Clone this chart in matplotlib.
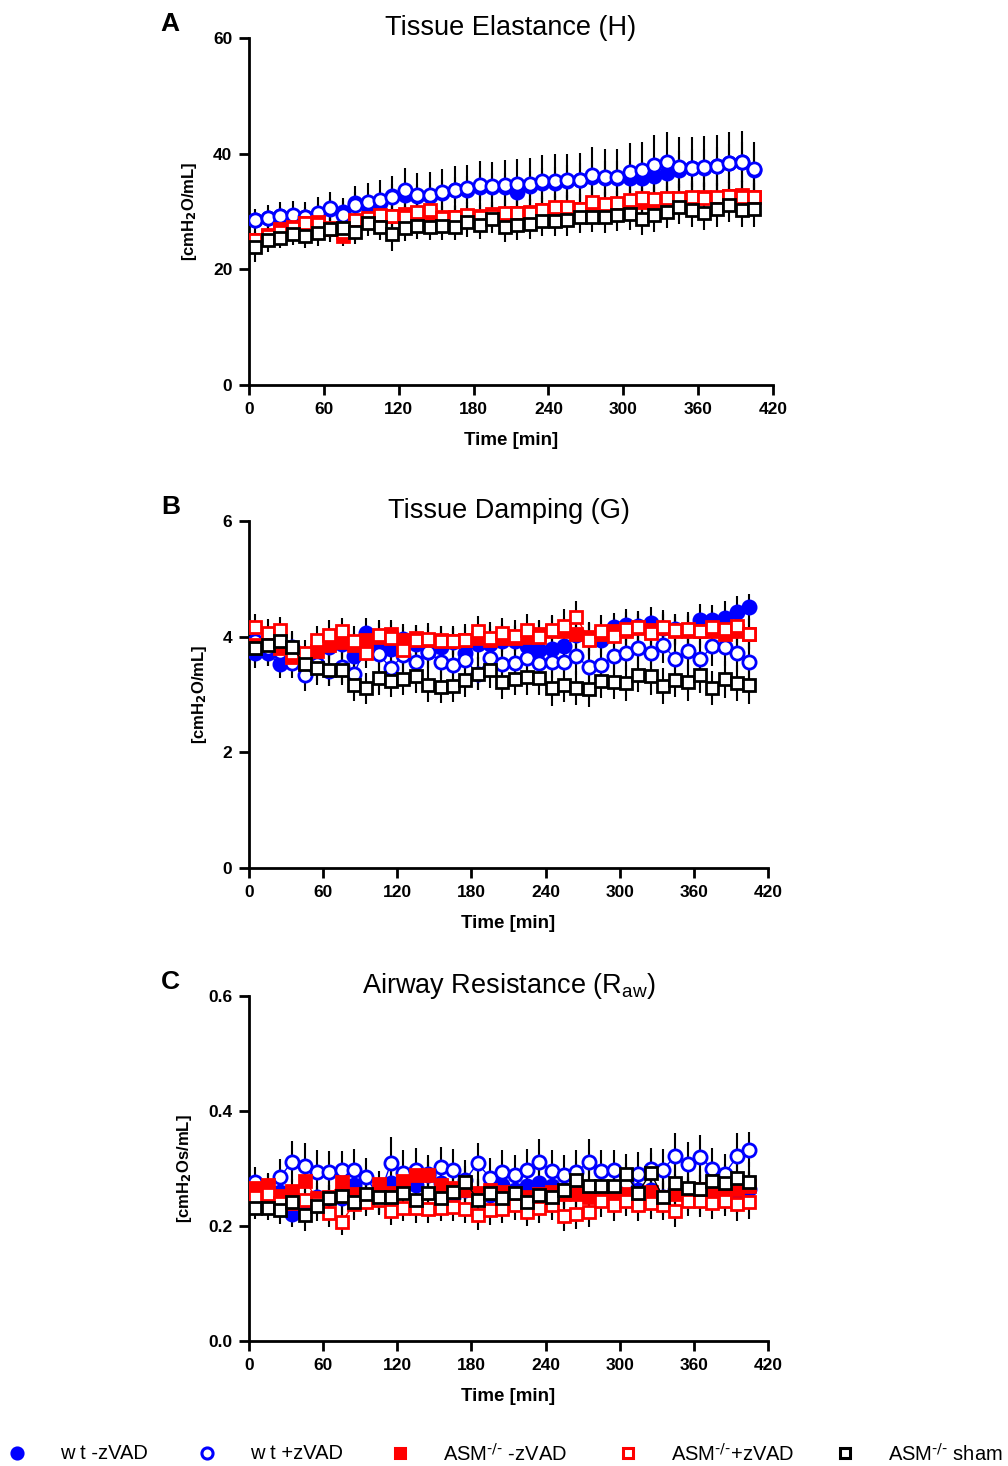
import matplotlib
matplotlib.use("Agg")
import matplotlib.pyplot as plt

plt.rcParams['font.family'] = ['Liberation Sans', 'DejaVu Sans']
plt.rcParams['mathtext.default'] = 'regular'

# time points [min]
time_min = [5, 15, 25, 35, 45, 55, 65, 75, 85, 95, 105, 115, 125, 135, 145, 155, 165,
            175, 185, 195, 205, 215, 225, 235, 245, 255, 265, 275, 285, 295, 305, 315,
            325, 335, 345, 355, 365, 375, 385, 395, 405]

series_names = ["w t -zVAD", "w t +zVAD", r"ASM$^{\text{-/-}}$ -zVAD",
                r"ASM$^{\text{-/-}}$+zVAD", r"ASM$^{\text{-/-}}$ sham"]

# ---- A: Tissue elastance H ----
H_wt_minus = [28.5, 28.8, 29.2, 29.0, 29.0, 29.6, 30.4, 30.0, 31.4, 31.0, 31.5, 32.6, 32.9, 32.6,
              32.7, 33.2, 33.7, 33.7, 34.2, 34.2, 34.2, 33.4, 34.4, 34.9, 35.0, 35.2, 35.5, 36.0,
              35.8, 35.8, 35.8, 35.8, 36.2, 36.6, 37.2, 37.5, 37.5, 37.8, 38.3, 38.6, 37.1]
H_wt_plus = [28.5, 28.9, 29.3, 29.4, 29.1, 29.8, 30.6, 29.4, 31.2, 31.7, 32.0, 32.5, 33.7, 32.8,
             32.9, 33.4, 33.8, 34.0, 34.6, 34.4, 34.6, 34.8, 34.8, 35.3, 35.3, 35.4, 35.4, 36.3,
             36.0, 35.9, 36.9, 37.1, 38.1, 38.6, 37.7, 37.5, 37.7, 37.9, 38.4, 38.6, 37.3]
H_asm_minus = [25.1, 26.0, 26.9, 27.3, 28.0, 28.2, 27.0, 25.7, 28.0, 28.4, 29.0, 29.2, 29.5, 29.8,
               29.4, 29.0, 29.0, 29.2, 29.3, 29.5, 29.6, 29.7, 29.9, 30.2, 30.5, 30.6, 30.4, 30.8,
               31.0, 31.2, 31.5, 31.6, 31.8, 32.0, 32.2, 32.4, 32.5, 32.4, 32.6, 32.8, 32.5]
H_asm_plus = [25.1, 25.8, 26.4, 27.1, 28.0, 27.8, 27.2, 26.5, 28.5, 28.8, 29.4, 29.3, 29.0, 30.0,
              30.2, 28.9, 29.0, 29.4, 29.0, 29.3, 29.7, 29.8, 29.8, 30.3, 30.7, 30.8, 30.5, 31.6,
              31.3, 31.4, 32.0, 32.3, 32.2, 32.4, 32.4, 32.5, 32.3, 32.5, 32.6, 32.5, 32.5]
H_sham = [23.8, 25.0, 25.5, 26.1, 25.7, 26.2, 26.9, 27.1, 26.5, 28.0, 27.3, 26.1, 27.2, 27.5,
          27.4, 27.5, 27.4, 28.1, 27.7, 28.7, 27.4, 27.7, 27.9, 28.3, 28.4, 28.5, 29.0, 29.1,
          29.0, 29.4, 29.6, 28.7, 29.4, 30.0, 30.7, 30.3, 29.8, 30.4, 31.1, 30.3, 30.4]

H_err_wt_minus = [1.5, 1.5, 1.6, 1.6, 1.7, 1.7, 1.8, 1.8, 1.9, 2.0, 2.0, 2.1, 2.1, 2.2, 2.2, 2.3,
                  2.3, 2.4, 2.4, 2.5, 2.5, 2.6, 2.6, 2.7, 2.7, 2.8, 2.8, 2.9, 2.9, 3.0, 3.0, 3.1,
                  3.1, 3.2, 3.2, 3.3, 3.3, 3.4, 3.4, 3.5, 3.5]
H_err_wt_plus = [2.0, 2.2, 2.3, 2.5, 2.6, 2.7, 2.8, 3.0, 3.2, 3.3, 3.5, 3.6, 3.8, 3.8, 3.9, 4.0,
                 4.0, 4.1, 4.2, 4.2, 4.3, 4.3, 4.4, 4.5, 4.6, 4.6, 4.7, 4.8, 4.8, 4.9, 5.0, 5.0,
                 5.1, 5.2, 5.2, 5.3, 5.3, 5.4, 5.4, 5.3, 4.7]
H_err_asm_minus = [1.5, 1.5, 1.6, 1.6, 1.6, 1.7, 1.7, 1.7, 1.8, 1.8, 1.8, 1.9, 1.9, 1.9, 2.0,
                   2.0, 2.0, 2.0, 2.1, 2.1, 2.1, 2.1, 2.2, 2.2, 2.2, 2.2, 2.3, 2.3, 2.3, 2.3,
                   2.4, 2.4, 2.4, 2.4, 2.5, 2.5, 2.5, 2.5, 2.5, 2.5, 2.5]
H_err_asm_plus = [1.4, 1.5, 1.5, 1.6, 1.6, 1.7, 1.7, 1.8, 1.8, 1.9, 1.9, 2.0, 2.0, 2.1, 2.1,
                  2.1, 2.2, 2.2, 2.2, 2.3, 2.3, 2.3, 2.4, 2.4, 2.4, 2.5, 2.5, 2.5, 2.6, 2.6,
                  2.6, 2.7, 2.7, 2.7, 2.8, 2.8, 2.8, 2.9, 2.9, 2.9, 3.0]
H_err_sham = [2.6, 2.0, 1.8, 1.9, 2.0, 2.1, 2.2, 2.2, 2.2, 2.3, 2.3, 3.0, 2.3, 2.3, 2.4, 2.4,
              2.4, 2.5, 2.5, 2.5, 2.6, 2.6, 2.6, 2.6, 2.7, 2.7, 2.7, 2.7, 2.8, 2.8, 2.8, 2.8,
              2.9, 2.9, 2.9, 2.9, 3.0, 3.0, 3.0, 3.0, 3.0]

# ---- B: Tissue damping G ----
G_wt_minus = [3.71, 3.71, 3.53, 3.82, 3.61, 3.78, 3.82, 3.88, 3.66, 4.06, 3.78, 3.78, 3.96, 3.88,
              3.74, 3.82, 3.90, 3.72, 3.88, 3.88, 3.93, 3.92, 3.84, 3.77, 3.78, 3.84, 4.03, 3.96,
              3.95, 4.16, 4.20, 4.19, 4.23, 4.15, 4.14, 4.12, 4.28, 4.28, 4.32, 4.42, 4.51]
G_wt_plus = [3.92, 3.80, 3.74, 3.55, 3.34, 3.53, 3.41, 3.48, 3.36, 3.85, 3.70, 3.45, 3.69, 3.57,
             3.74, 3.57, 3.51, 3.60, 3.36, 3.63, 3.53, 3.55, 3.63, 3.55, 3.57, 3.57, 3.66, 3.47,
             3.51, 3.66, 3.72, 3.80, 3.72, 3.86, 3.61, 3.76, 3.61, 3.83, 3.82, 3.71, 3.57]
G_asm_minus = [3.85, 3.90, 3.80, 3.65, 3.55, 3.75, 3.85, 3.90, 3.85, 3.95, 4.00, 4.05, 3.95, 3.98,
               3.95, 3.95, 3.92, 3.95, 3.98, 3.95, 3.98, 3.98, 4.00, 4.05, 4.10, 4.10, 4.05, 4.00,
               4.05, 4.10, 4.10, 4.15, 4.12, 4.15, 4.10, 4.10, 4.10, 4.10, 4.05, 4.10, 4.05]
G_asm_plus = [4.17, 4.07, 4.11, 3.72, 3.71, 3.94, 4.03, 4.09, 3.93, 3.71, 4.03, 3.98, 3.77, 3.95,
              3.96, 3.92, 3.93, 3.95, 4.09, 3.98, 4.06, 4.02, 4.12, 4.00, 4.12, 4.19, 4.34, 3.95,
              4.09, 4.02, 4.13, 4.17, 4.06, 4.17, 4.12, 4.13, 4.09, 4.17, 4.13, 4.18, 4.05]
G_sham = [3.80, 3.85, 3.92, 3.82, 3.52, 3.45, 3.42, 3.42, 3.17, 3.11, 3.28, 3.24, 3.26, 3.32,
          3.17, 3.13, 3.14, 3.25, 3.36, 3.42, 3.21, 3.27, 3.30, 3.28, 3.11, 3.17, 3.11, 3.09,
          3.24, 3.22, 3.20, 3.34, 3.32, 3.15, 3.25, 3.21, 3.34, 3.11, 3.26, 3.20, 3.17]

G_err_wt_minus = [0.25, 0.22, 0.24, 0.25, 0.23, 0.26, 0.24, 0.25, 0.27, 0.26, 0.25, 0.24, 0.26,
                  0.25, 0.27, 0.26, 0.25, 0.24, 0.26, 0.25, 0.27, 0.26, 0.25, 0.27, 0.26, 0.25,
                  0.28, 0.27, 0.26, 0.25, 0.27, 0.26, 0.28, 0.27, 0.26, 0.27, 0.28, 0.27, 0.29,
                  0.28, 0.22]
G_err_wt_plus = [0.28, 0.30, 0.27, 0.26, 0.28, 0.29, 0.27, 0.28, 0.30, 0.29, 0.28, 0.30, 0.31,
                 0.29, 0.28, 0.30, 0.31, 0.30, 0.29, 0.31, 0.30, 0.32, 0.31, 0.30, 0.29, 0.31,
                 0.32, 0.30, 0.31, 0.33, 0.32, 0.31, 0.33, 0.32, 0.34, 0.33, 0.32, 0.34, 0.33,
                 0.32, 0.34]
G_err_asm_minus = [0.20, 0.21, 0.22, 0.20, 0.21, 0.22, 0.23, 0.22, 0.21, 0.22, 0.23, 0.24, 0.22,
                   0.23, 0.22, 0.24, 0.23, 0.22, 0.24, 0.23, 0.24, 0.22, 0.23, 0.24, 0.25, 0.23,
                   0.24, 0.25, 0.24, 0.23, 0.25, 0.24, 0.26, 0.25, 0.24, 0.26, 0.25, 0.24, 0.26,
                   0.25, 0.26]
G_err_asm_plus = [0.22, 0.24, 0.23, 0.22, 0.24, 0.25, 0.26, 0.24, 0.25, 0.26, 0.25, 0.27, 0.26,
                  0.25, 0.27, 0.26, 0.25, 0.27, 0.26, 0.28, 0.27, 0.26, 0.28, 0.27, 0.26, 0.28,
                  0.27, 0.29, 0.28, 0.27, 0.29, 0.28, 0.27, 0.29, 0.28, 0.30, 0.29, 0.28, 0.30,
                  0.29, 0.28]
G_err_sham = [0.26, 0.24, 0.25, 0.27, 0.26, 0.28, 0.27, 0.26, 0.28, 0.27, 0.29, 0.28, 0.27, 0.29,
              0.30, 0.28, 0.27, 0.29, 0.28, 0.30, 0.29, 0.28, 0.30, 0.29, 0.31, 0.30, 0.29, 0.31,
              0.30, 0.29, 0.31, 0.30, 0.32, 0.31, 0.30, 0.32, 0.31, 0.30, 0.32, 0.31, 0.33]

# ---- C: Airway resistance Raw ----
R_wt_minus = [0.256, 0.259, 0.259, 0.221, 0.239, 0.251, 0.249, 0.249, 0.271, 0.249, 0.250,
              0.275, 0.274, 0.271, 0.290, 0.275, 0.251, 0.262, 0.254, 0.254, 0.271, 0.262,
              0.270, 0.274, 0.270, 0.262, 0.260, 0.254, 0.262, 0.260, 0.254, 0.262, 0.262,
              0.251, 0.262, 0.254, 0.251, 0.262, 0.253, 0.251, 0.265]
R_wt_plus = [0.277, 0.262, 0.285, 0.312, 0.304, 0.294, 0.294, 0.297, 0.297, 0.285, 0.250,
             0.310, 0.293, 0.297, 0.288, 0.302, 0.297, 0.280, 0.309, 0.284, 0.294, 0.288,
             0.297, 0.312, 0.296, 0.288, 0.294, 0.312, 0.295, 0.297, 0.275, 0.290, 0.299,
             0.298, 0.322, 0.308, 0.320, 0.300, 0.291, 0.321, 0.333]
R_asm_minus = [0.266, 0.271, 0.253, 0.261, 0.279, 0.248, 0.251, 0.277, 0.255, 0.250, 0.273,
               0.258, 0.278, 0.289, 0.289, 0.271, 0.266, 0.262, 0.258, 0.262, 0.260, 0.255,
               0.250, 0.255, 0.260, 0.255, 0.255, 0.250, 0.255, 0.260, 0.255, 0.250, 0.260,
               0.250, 0.255, 0.260, 0.265, 0.265, 0.260, 0.265, 0.270]
R_asm_plus = [0.250, 0.255, 0.240, 0.240, 0.245, 0.240, 0.222, 0.207, 0.238, 0.241, 0.245,
              0.226, 0.231, 0.231, 0.229, 0.231, 0.233, 0.229, 0.219, 0.227, 0.229, 0.236,
              0.225, 0.232, 0.236, 0.217, 0.221, 0.225, 0.243, 0.236, 0.244, 0.236, 0.240,
              0.236, 0.226, 0.244, 0.244, 0.240, 0.244, 0.238, 0.241]
R_sham = [0.232, 0.232, 0.227, 0.242, 0.219, 0.235, 0.248, 0.252, 0.241, 0.256, 0.251, 0.250,
          0.258, 0.246, 0.258, 0.248, 0.259, 0.277, 0.246, 0.258, 0.248, 0.258, 0.242, 0.254,
          0.251, 0.262, 0.280, 0.270, 0.269, 0.269, 0.290, 0.258, 0.292, 0.251, 0.275, 0.266,
          0.264, 0.279, 0.275, 0.284, 0.277]

R_err_wt_minus = [0.020, 0.022, 0.021, 0.023, 0.022, 0.024, 0.023, 0.022, 0.025, 0.024, 0.023,
                  0.025, 0.024, 0.026, 0.025, 0.024, 0.026, 0.025, 0.027, 0.026, 0.025, 0.027,
                  0.026, 0.025, 0.027, 0.026, 0.028, 0.027, 0.026, 0.028, 0.027, 0.029, 0.028,
                  0.027, 0.029, 0.028, 0.030, 0.029, 0.028, 0.030, 0.029]
R_err_wt_plus = [0.025, 0.030, 0.032, 0.035, 0.040, 0.038, 0.036, 0.034, 0.037, 0.033, 0.030,
                 0.045, 0.040, 0.038, 0.036, 0.035, 0.037, 0.034, 0.036, 0.035, 0.038, 0.036,
                 0.037, 0.040, 0.036, 0.035, 0.038, 0.040, 0.037, 0.036, 0.035, 0.038, 0.037,
                 0.036, 0.040, 0.038, 0.039, 0.036, 0.035, 0.040, 0.030]
R_err_asm_minus = [0.018, 0.020, 0.019, 0.021, 0.020, 0.022, 0.021, 0.020, 0.022, 0.021, 0.023,
                   0.022, 0.021, 0.023, 0.022, 0.024, 0.023, 0.022, 0.024, 0.023, 0.022, 0.024,
                   0.023, 0.025, 0.024, 0.023, 0.025, 0.024, 0.023, 0.025, 0.024, 0.026, 0.025,
                   0.024, 0.026, 0.025, 0.024, 0.026, 0.025, 0.027, 0.026]
R_err_asm_plus = [0.020, 0.022, 0.021, 0.023, 0.022, 0.021, 0.023, 0.022, 0.024, 0.023, 0.022,
                  0.024, 0.023, 0.025, 0.024, 0.023, 0.025, 0.024, 0.026, 0.025, 0.024, 0.026,
                  0.025, 0.027, 0.026, 0.025, 0.027, 0.026, 0.028, 0.027, 0.026, 0.028, 0.027,
                  0.026, 0.028, 0.027, 0.029, 0.028, 0.027, 0.029, 0.028]
R_err_sham = [0.020, 0.022, 0.024, 0.026, 0.028, 0.026, 0.030, 0.032, 0.030, 0.028, 0.030,
              0.035, 0.034, 0.032, 0.030, 0.031, 0.030, 0.028, 0.032, 0.030, 0.029, 0.031,
              0.033, 0.030, 0.032, 0.034, 0.033, 0.031, 0.034, 0.032, 0.036, 0.033, 0.035,
              0.032, 0.034, 0.033, 0.035, 0.034, 0.033, 0.035, 0.034]

panels = [
    dict(letter="A", title="Tissue Elastance (H)", ylabel=r"[cmH$_\mathbf{2}$O/mL]",
         ylim=(0, 60), yticks=[0, 20, 40, 60], yfmt="{:.0f}",
         means=[H_wt_minus, H_wt_plus, H_asm_minus, H_asm_plus, H_sham],
         errs=[H_err_wt_minus, H_err_wt_plus, H_err_asm_minus, H_err_asm_plus, H_err_sham],
         rect=[249 / 1008, 1 - 385 / 1466, 524 / 1008, 347 / 1466]),
    dict(letter="B", title="Tissue Damping (G)", ylabel=r"[cmH$_\mathbf{2}$O/mL]",
         ylim=(0, 6), yticks=[0, 2, 4, 6], yfmt="{:.0f}",
         means=[G_wt_minus, G_wt_plus, G_asm_minus, G_asm_plus, G_sham],
         errs=[G_err_wt_minus, G_err_wt_plus, G_err_asm_minus, G_err_asm_plus, G_err_sham],
         rect=[249 / 1008, 1 - 868 / 1466, 519 / 1008, 347 / 1466]),
    dict(letter="C", title="Airway Resistance (R$_{aw}$)", ylabel=r"[cmH$_\mathbf{2}$Os/mL]",
         ylim=(0, 0.6), yticks=[0.0, 0.2, 0.4, 0.6], yfmt="{:.1f}",
         means=[R_wt_minus, R_wt_plus, R_asm_minus, R_asm_plus, R_sham],
         errs=[R_err_wt_minus, R_err_wt_plus, R_err_asm_minus, R_err_asm_plus, R_err_sham],
         rect=[249 / 1008, 1 - 1341 / 1466, 519 / 1008, 345 / 1466]),
]

# marker styles: (color, marker, face)
styles = [
    ("#0000ff", "o", "#0000ff"),
    ("#0000ff", "o", "white"),
    ("#ff0000", "s", "#ff0000"),
    ("#ff0000", "s", "white"),
    ("black", "s", "white"),
]

fig = plt.figure(figsize=(10.08, 14.66), dpi=100)

for p in panels:
    ax = fig.add_axes(p["rect"])
    # error bars first, all in black, behind markers
    for m, e in zip(p["means"], p["errs"]):
        ax.errorbar(time_min, m, yerr=e, fmt="none", ecolor="black", elinewidth=1.5,
                    capsize=0, zorder=2)
    for k, (m, st) in enumerate(zip(p["means"], styles)):
        col, mk, face = st
        ax.plot(time_min, m, color=col, lw=1.0, marker=mk, markersize=9.5 if mk == "o" else 8.5,
                markerfacecolor=face, markeredgecolor=col, markeredgewidth=2.0,
                zorder=3 + k)
    ax.set_xlim(0, 420)
    ax.set_ylim(*p["ylim"])
    ax.set_xticks(range(0, 421, 60))
    ax.set_yticks(p["yticks"])
    ax.set_yticklabels([p["yfmt"].format(v) for v in p["yticks"]])
    for side in ("top", "right"):
        ax.spines[side].set_visible(False)
    for side in ("left", "bottom"):
        ax.spines[side].set_linewidth(2.0)
    ax.tick_params(direction="out", length=7, width=2.0, labelsize=12.5, pad=5)
    for lab in ax.get_xticklabels() + ax.get_yticklabels():
        lab.set_fontweight("bold")
    ax.set_xlabel("Time [min]", fontsize=13.5, fontweight="bold", labelpad=11)
    ax.set_ylabel(p["ylabel"], fontsize=12, fontweight="bold", labelpad=10)
    ax.text(0.5, 1.009, p["title"], transform=ax.transAxes, fontsize=19.5,
            ha="center", va="baseline")
    ax.text(-0.17, 1.04, p["letter"], transform=ax.transAxes, fontsize=19,
            fontweight="bold", ha="left", va="center")

# legend row along the bottom
leg = fig.add_axes([0, 0, 1, 0.02])
leg.set_xlim(0, 1008)
leg.set_ylim(0, 1)
leg.axis("off")
leg_x = [17, 207, 400, 628, 845]
for x, name, st in zip(leg_x, series_names, styles):
    col, mk, face = st
    leg.plot([x], [0.45], marker=mk, markersize=8 if mk == "o" else 7.5, color=col,
             markerfacecolor=face, markeredgecolor=col, markeredgewidth=2.2, linestyle="none")
    leg.text(x + 43, 0.42, name, fontsize=14.5, ha="left", va="center")

fig.savefig("out.png", dpi=100)
